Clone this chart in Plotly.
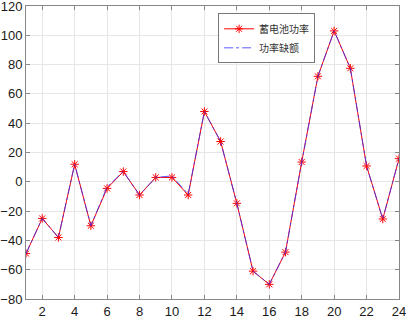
import plotly.graph_objects as go

hours = list(range(1, 25))
battery_power = [-49, -25, -38, 12, -30, -4.5, 7, -9, 3, 3, -9, 48, 27.5, -14.7, -61, -70, -48, 13.5, 72, 103, 77.5, 10.8, -25.4, 15.8]
power_deficit = [-49, -25, -38, 12, -30, -3.5, 7, -9, 3, 4, -8.5, 48, 27.5, -14.7, -61, -70, -48, 13.5, 72, 103, 77.5, 10.8, -25.4, 15.8]
x_ticks = [2, 4, 6, 8, 10, 12, 14, 16, 18, 20, 22, 24]
y_ticks = [-80, -60, -40, -20, 0, 20, 40, 60, 80, 100, 120]

fig = go.Figure()
fig.add_trace(go.Scatter(
    x=hours, y=battery_power, name="蓄电池功率", mode="lines+markers",
    line=dict(color="red", width=1),
    marker=dict(symbol="asterisk-open", size=7, color="red", line=dict(color="red", width=1)),
))
fig.add_trace(go.Scatter(
    x=hours, y=power_deficit, name="功率缺额", mode="lines",
    line=dict(color="#3333ff", width=1, dash="dashdot"), opacity=0.8,
))

axis_common = dict(
    showline=True, linecolor="#888888", linewidth=1, mirror="ticks",
    ticks="inside", ticklen=4, tickcolor="#888888", automargin=False,
    ticklabeloverflow="allow",
    showgrid=True, gridcolor="#e6e6e6", gridwidth=1, zeroline=False,
    tickfont=dict(family="Liberation Sans, Arial", size=13, color="#1a1a1a"),
)
fig.update_xaxes(range=[1, 24], tickvals=x_ticks, **axis_common)
fig.update_yaxes(range=[-80, 120], tickvals=y_ticks, **axis_common)

fig.update_layout(
    width=406, height=318,
    margin=dict(l=26, r=7, t=6, b=19, autoexpand=False),
    plot_bgcolor="white", paper_bgcolor="white",
    showlegend=True,
    legend=dict(
        x=0.515, y=0.975, xanchor="left", yanchor="top",
        bgcolor="white", bordercolor="#777777", borderwidth=1,
        font=dict(family="Noto Sans CJK SC", size=10, color="#333333"),
        itemwidth=30, tracegroupgap=0,
    ),
)
fig.write_html("out.html", config={"displayModeBar": False},
               post_script="document.body.style.margin='0';document.body.style.padding='0';")
